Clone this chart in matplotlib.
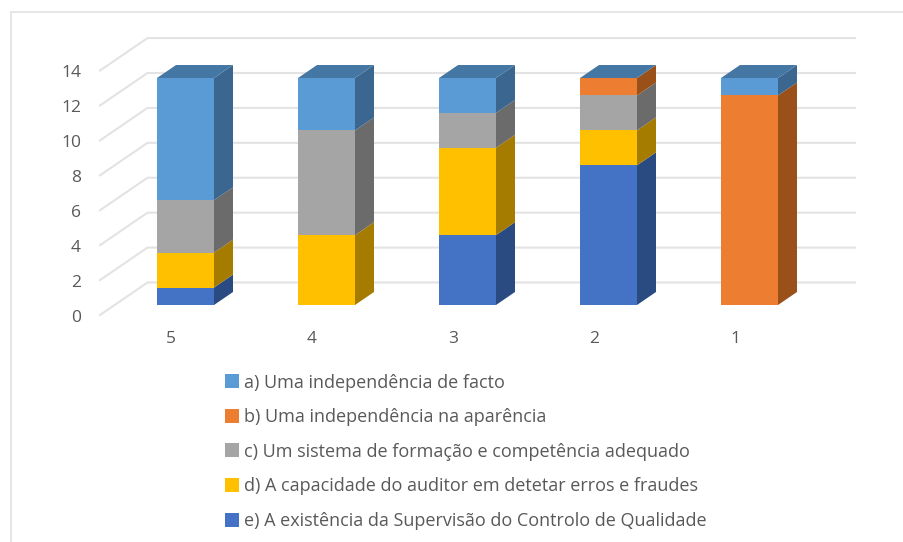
from matplotlib import pyplot as plt
from matplotlib.patches import Polygon
from matplotlib.lines import Line2D
import numpy as np

plt.rcParams['font.family'] = ['Open Sans', 'DejaVu Sans']

categories = ['5', '4', '3', '2', '1']
serie_e = [1, 0, 4, 8, 0]
serie_d = [2, 4, 5, 2, 0]
serie_c = [3, 6, 2, 2, 0]
serie_b = [0, 0, 0, 1, 12]
serie_a = [7, 3, 2, 0, 1]
y_ticks = [0, 2, 4, 6, 8, 10, 12, 14]

label_a = 'a) Uma independência de facto'
label_b = 'b) Uma independência na aparência'
label_c = 'c) Um sistema de formação e competência adequado'
label_d = 'd) A capacidade do auditor em detetar erros e fraudes'
label_e = 'e) A existência da Supervisão do Controlo de Qualidade'

W, H = 904, 542
px_x = 141.0   # pixels per category
px_y = 17.46   # pixels per unit
x0_px = 185.5  # centre of first bar
y0_px = 305.0  # bar base

fig = plt.figure(figsize=(W / 100, H / 100), dpi=100)
ax = fig.add_axes([0, 0, 1, 1])
ax.set_xlim(-x0_px / px_x, (W - x0_px) / px_x)
ax.set_ylim((y0_px - H) / px_y, y0_px / px_y)
ax.axis('off')

# depths in data units
bar_w = 57 / px_x
bar_dx = 19 / px_x
bar_dy = 13 / px_y
wall_left = (100 - x0_px) / px_x
wall_back = (147.5 - x0_px) / px_x
wall_right = (855 - x0_px) / px_x
front_off = -10 / px_y   # front of the floor is below the bar base
back_off = (305 - 282.5) / px_y

grid_col = '#e3e3e3'
for t in y_ticks:
    ax.plot([wall_left, wall_back, wall_right],
            [t + front_off, t + back_off, t + back_off],
            color=grid_col, lw=1.5, zorder=1, solid_joinstyle='miter')
    ax.text(wall_left - 19 / px_x, t + front_off - 2.5 / px_y, str(t),
            ha='right', va='center', fontsize=12.5, color='#595959')

x = np.arange(len(categories))
series = [
    (serie_e, '#4472C4', '#2A4A82', label_e),
    (serie_d, '#FFC000', '#A67C00', label_d),
    (serie_c, '#A5A5A5', '#6B6B6B', label_c),
    (serie_b, '#ED7D31', '#9A5119', label_b),
    (serie_a, '#5B9BD5', '#3A6690', label_a),
]
top_col = '#4477A3'

bottom = np.zeros(len(categories))
for values, col, side, lab in series:
    values = np.array(values, dtype=float)
    ax.bar(x, values, bar_w, bottom=bottom, color=col, linewidth=0, zorder=3)
    for xi, v, b in zip(x, values, bottom):
        if v == 0:
            continue
        r = xi + bar_w / 2
        ax.add_patch(Polygon([(r, b), (r + bar_dx, b + bar_dy),
                              (r + bar_dx, b + v + bar_dy), (r, b + v)],
                             closed=True, facecolor=side, edgecolor='none', zorder=3))
    bottom = bottom + values

# top faces
for xi, total in zip(x, bottom):
    l = xi - bar_w / 2
    r = xi + bar_w / 2
    ax.add_patch(Polygon([(l, total), (r, total), (r + bar_dx, total + bar_dy),
                          (l + bar_dx, total + bar_dy)],
                         closed=True, facecolor=top_col, edgecolor='none', zorder=4))
    ax.text(xi - 14.5 / px_x, (305 - 339) / px_y, categories[int(xi)],
            ha='center', va='center', fontsize=12.5, color='#595959')

handles = [Line2D([], [], linestyle='none', marker='s', markersize=9.4,
                  markerfacecolor=s[1], markeredgewidth=0) for s in series[::-1]]
leg = ax.legend(handles, [s[3] for s in series[::-1]], loc='upper left',
                bbox_to_anchor=(223.4 / W, 1 - 373.5 / H), frameon=False,
                fontsize=13, labelcolor='#595959', handlelength=1.0,
                handletextpad=0.15, labelspacing=0.92, borderpad=0, borderaxespad=0)

# frame round the chart
fig.add_artist(Line2D([11 / W, 11 / W, 1], [0, 1 - 12 / H, 1 - 12 / H],
                      color='#e0e0e0', lw=1.2))

plt.savefig('out.png', dpi=100)
